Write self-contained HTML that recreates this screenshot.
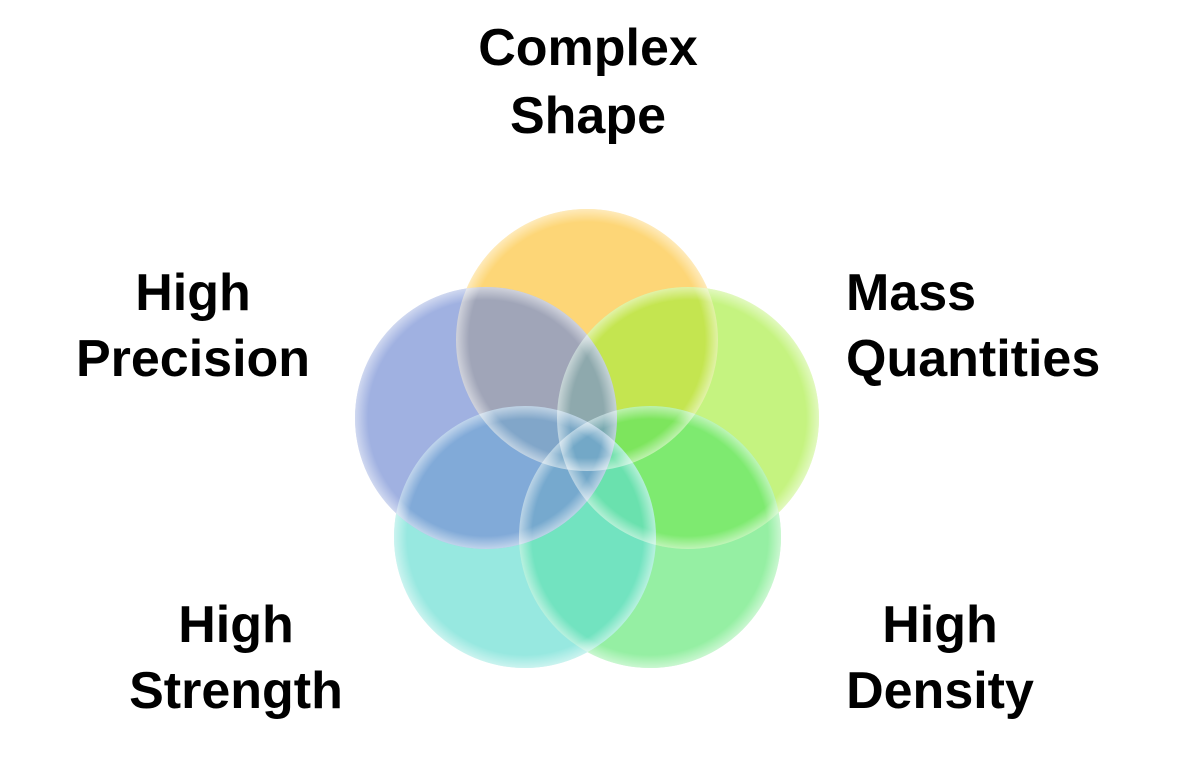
<!DOCTYPE html>
<html><head><meta charset="utf-8"><style>
html,body{margin:0;padding:0;background:#fff;width:1191px;height:758px;overflow:hidden}
svg{display:block}
text{font-family:"Liberation Sans",sans-serif;font-weight:bold;font-size:52px;fill:#000}
</style></head><body>
<svg width="1191" height="758" viewBox="0 0 1191 758">
<defs>
<radialGradient id="sh" cx="50%" cy="50%" r="50%">
<stop offset="0.9" stop-color="#fff" stop-opacity="0"/>
<stop offset="1" stop-color="#fff" stop-opacity="0.5"/>
</radialGradient>
</defs>
<g>
<circle cx="587" cy="340" r="131" fill="#fdcc55" fill-opacity="0.8"/>
<circle cx="688" cy="418" r="131" fill="#a6ec3c" fill-opacity="0.65"/>
<circle cx="650" cy="537" r="131" fill="#4fe466" fill-opacity="0.6"/>
<circle cx="525" cy="537" r="131" fill="#5fdcd0" fill-opacity="0.65"/>
<circle cx="486" cy="418" r="131" fill="#7890d4" fill-opacity="0.7"/>
</g>
<g fill="url(#sh)">
<circle cx="587" cy="340" r="131"/>
<circle cx="688" cy="418" r="131"/>
<circle cx="650" cy="537" r="131"/>
<circle cx="525" cy="537" r="131"/>
<circle cx="486" cy="418" r="131"/>
</g>
<text x="588" y="65" text-anchor="middle">Complex</text>
<text x="588" y="133" text-anchor="middle">Shape</text>
<text x="193" y="310" text-anchor="middle">High</text>
<text x="193" y="376" text-anchor="middle">Precision</text>
<text x="846" y="310">Mass</text>
<text x="846" y="376">Quantities</text>
<text x="236" y="642" text-anchor="middle">High</text>
<text x="236" y="708" text-anchor="middle">Strength</text>
<text x="940" y="642" text-anchor="middle">High</text>
<text x="940" y="708" text-anchor="middle">Density</text>
</svg>
</body></html>
